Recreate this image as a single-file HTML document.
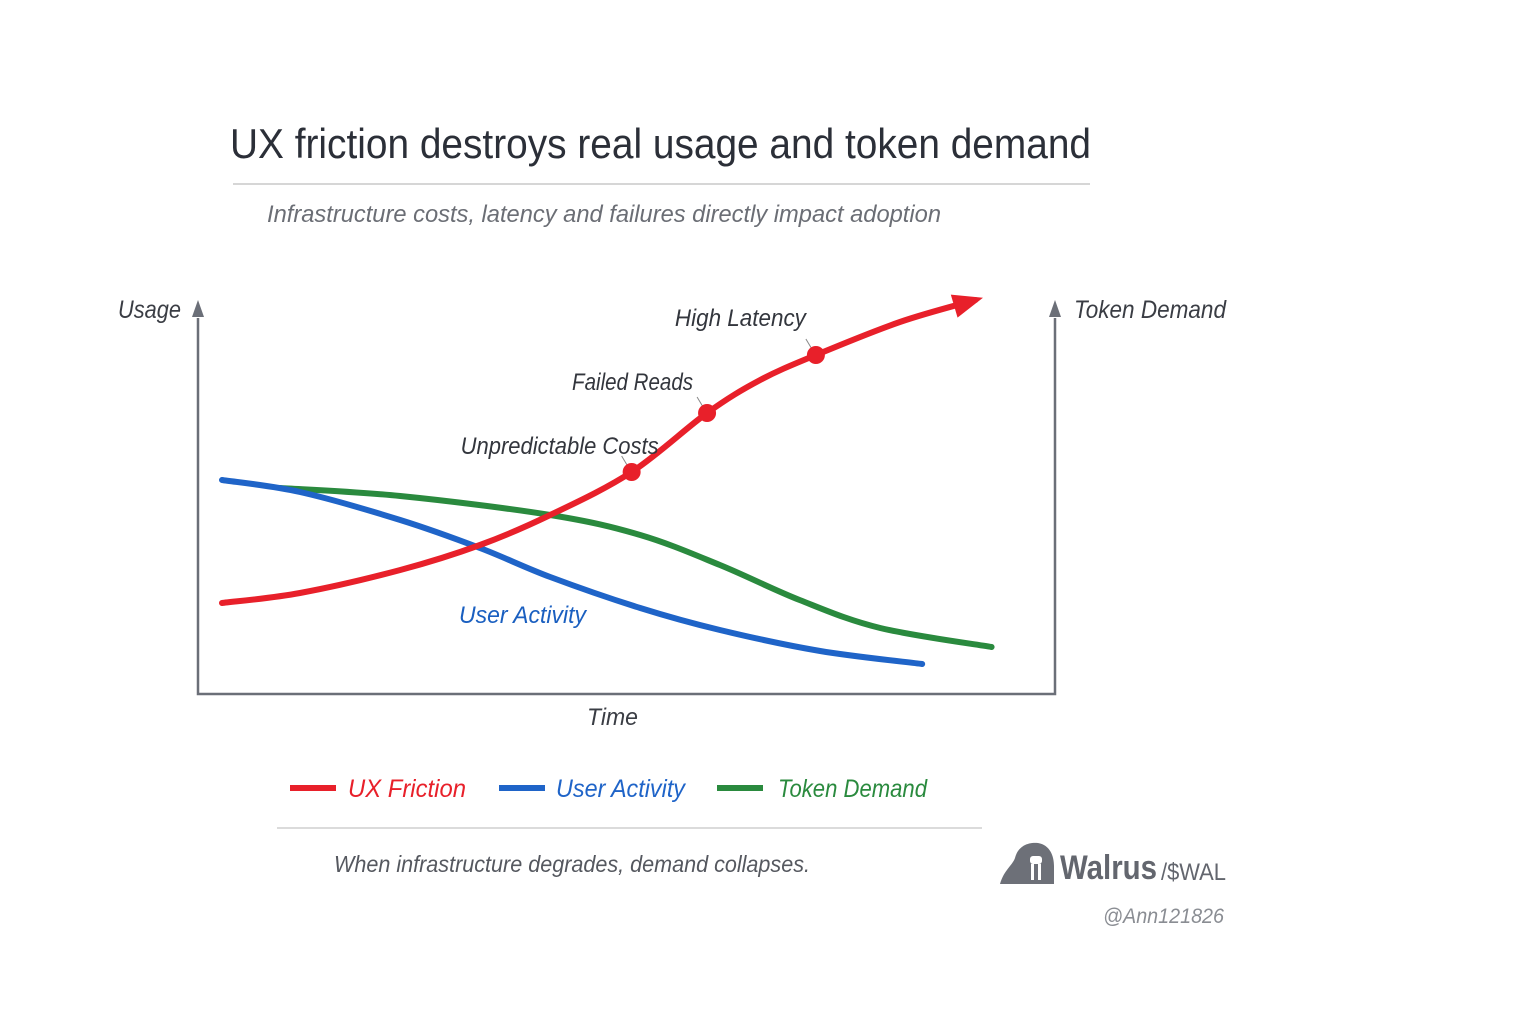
<!DOCTYPE html>
<html><head><meta charset="utf-8"><style>
body{margin:0;background:#fff;width:1536px;height:1024px;overflow:hidden;font-family:"Liberation Sans",sans-serif}
svg{position:absolute;left:0;top:0}
</style></head><body>
<svg id="c" width="1536" height="1024">
<text x="230" y="158" font-size="42" fill="#2b2f38" textLength="861" lengthAdjust="spacingAndGlyphs">UX friction destroys real usage and token demand</text>
<line x1="233" y1="184" x2="1090" y2="184" stroke="#c8c8c8" stroke-width="1.5"/>
<text x="267" y="222" font-size="24" font-style="italic" fill="#6b6e75" textLength="674" lengthAdjust="spacingAndGlyphs">Infrastructure costs, latency and failures directly impact adoption</text>
<g id="axes" stroke="#6b6f78" stroke-width="2.5" fill="none">
<polyline points="198,318 198,694 1055,694 1055,318"/>
</g>
<polygon points="198,300 192,317 204,317" fill="#6b6f78"/>
<polygon points="1055,300 1049,317 1061,317" fill="#6b6f78"/>
<text x="118" y="318" font-size="25" font-style="italic" fill="#3a3d44" textLength="63" lengthAdjust="spacingAndGlyphs">Usage</text>
<text x="1074" y="318" font-size="25" font-style="italic" fill="#3a3d44" textLength="152" lengthAdjust="spacingAndGlyphs">Token Demand</text>
<text x="587" y="725" font-size="24" font-style="italic" fill="#3a3d44" textLength="51" lengthAdjust="spacingAndGlyphs">Time</text>
<g id="series"></g>
<text x="459" y="623" font-size="24" font-style="italic" fill="#1a5fc0" textLength="127" lengthAdjust="spacingAndGlyphs">User Activity</text>
<g>
<line x1="290" y1="788" x2="336" y2="788" stroke="#e8202a" stroke-width="6"/>
<text x="348" y="797" font-size="25" font-style="italic" fill="#e8202a" textLength="118" lengthAdjust="spacingAndGlyphs">UX Friction</text>
<line x1="499" y1="788" x2="545" y2="788" stroke="#1f64c8" stroke-width="6"/>
<text x="556" y="797" font-size="25" font-style="italic" fill="#1f64c8" textLength="129" lengthAdjust="spacingAndGlyphs">User Activity</text>
<line x1="717" y1="788" x2="763" y2="788" stroke="#2a8a3e" stroke-width="6"/>
<text x="778" y="797" font-size="25" font-style="italic" fill="#2a8a3e" textLength="149" lengthAdjust="spacingAndGlyphs">Token Demand</text>
</g>
<line x1="277" y1="828" x2="982" y2="828" stroke="#cfcfcf" stroke-width="1.5"/>
<text x="334" y="872" font-size="23" font-style="italic" fill="#55585f" textLength="476" lengthAdjust="spacingAndGlyphs">When infrastructure degrades, demand collapses.</text>
<g>
<path d="M1000,884 C1004,870 1012,866 1015,858 C1018,846 1028,842 1038,843 C1050,845 1054,856 1054,866 L1054,884 Z" fill="#6d7078"/>
<rect x="1030" y="856" width="12" height="8" rx="3" fill="#fff"/>
<rect x="1031" y="864" width="3" height="16" fill="#fff"/><rect x="1038" y="864" width="3" height="16" fill="#fff"/>
<text x="1060" y="879" font-size="34" font-weight="bold" fill="#63666e" textLength="97" lengthAdjust="spacingAndGlyphs">Walrus</text>
<text x="1161" y="880" font-size="24" fill="#63666e" textLength="65" lengthAdjust="spacingAndGlyphs">/$WAL</text>
</g>
<text x="1103" y="923" font-size="21" font-style="italic" fill="#8a8d93" textLength="121" lengthAdjust="spacingAndGlyphs">@Ann121826</text>
</svg>
<script>
const times=[0.28,1.19,2.36,3.29,4.11,5.06,5.94,6.56,7.21,8.19,9.07];
const uxFriction=[22.75,25.25,31,37.25,44.75,55.5,70.25,78.5,84.75,93,98.5];
const userTimes=[0.28,1.19,2.36,3.29,4.11,5.16,6.09,7.26,8.45];
const userActivity=[53.5,50.5,43.5,36.5,29.25,21.5,16,10.75,7.5];
const tokenTimes=[0.96,2.36,4.11,5.16,6.09,7.02,7.96,9.26];
const tokenDemand=[51.5,49.5,44.75,39.75,32.25,23.5,16.5,11.75];
const markerIdx=[5,6,8];
const markerLabels=["Unpredictable Costs","Failed Reads","High Latency"];
const labelDx=[27,-14,-10], labelDy=[-18,-23,-29], labelW=[198,121,131];
const xs=t=>198+t*85.7, ys=v=>694-v*4;
const NS="http://www.w3.org/2000/svg";
const g=document.getElementById('series');
function path(ts,vs){const p=ts.map((t,i)=>[xs(t),ys(vs[i])]);let d=`M${p[0][0]},${p[0][1]}`;
for(let i=0;i<p.length-1;i++){const p0=p[i-1]||p[i],p1=p[i],p2=p[i+1],p3=p[i+2]||p2;
d+=` C${p1[0]+(p2[0]-p0[0])/6},${p1[1]+(p2[1]-p0[1])/6} ${p2[0]-(p3[0]-p1[0])/6},${p2[1]-(p3[1]-p1[1])/6} ${p2[0]},${p2[1]}`;}return d;}
function line(ts,vs,col,name){const e=document.createElementNS(NS,'path');e.setAttribute('d',path(ts,vs));e.setAttribute('fill','none');e.setAttribute('stroke',col);e.setAttribute('stroke-width','6');e.setAttribute('stroke-linecap','round');


g.appendChild(e);}
line(tokenTimes,tokenDemand,'#2a8a3e','token-demand-line');
line(userTimes,userActivity,'#1f64c8','user-activity-line');
line(times,uxFriction,'#e8202a','ux-friction-line');
const n=times.length,ax=xs(times[n-1]),ay=ys(uxFriction[n-1]),bx=xs(times[n-2]),by=ys(uxFriction[n-2]);
const ang=Math.atan2(ay-by,ax-bx),tx=ax+8*Math.cos(ang),ty=ay+8*Math.sin(ang);
const ah=document.createElementNS(NS,'polygon');
const L=30,W=12,cx=tx-L*Math.cos(ang),cy=ty-L*Math.sin(ang);
ah.setAttribute('points',`${tx},${ty} ${cx-W*Math.sin(ang)},${cy+W*Math.cos(ang)} ${cx+W*Math.sin(ang)},${cy-W*Math.cos(ang)}`);
ah.setAttribute('fill','#e8202a');


g.appendChild(ah);
markerIdx.forEach((k,i)=>{const x=xs(times[k]),y=ys(uxFriction[k]);
const l=document.createElementNS(NS,'line');l.setAttribute('x1',x-4);l.setAttribute('y1',y-6);l.setAttribute('x2',x-10);l.setAttribute('y2',y-16);l.setAttribute('stroke','#888');


g.appendChild(l);
const c=document.createElementNS(NS,'circle');c.setAttribute('cx',x);c.setAttribute('cy',y);c.setAttribute('r','9');c.setAttribute('fill','#e8202a');


g.appendChild(c);
const t=document.createElementNS(NS,'text');t.setAttribute('x',x+labelDx[i]-labelW[i]);t.setAttribute('y',y+labelDy[i]);t.setAttribute('font-size','24');t.setAttribute('font-style','italic');t.setAttribute('fill','#33363d');t.setAttribute('textLength',labelW[i]);t.setAttribute('lengthAdjust','spacingAndGlyphs');t.textContent=markerLabels[i];


g.appendChild(t);});
</script>
</body></html>
